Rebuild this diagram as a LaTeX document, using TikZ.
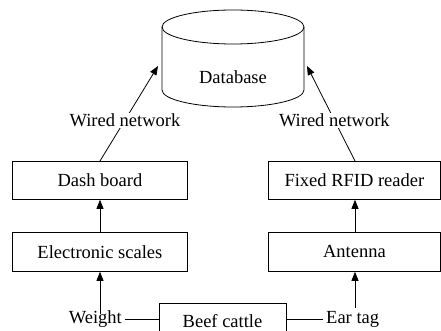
\documentclass[tikz,border=0pt]{standalone}
\usepackage{fontspec}
\setmainfont{Liberation Serif}
\usetikzlibrary{arrows.meta}
\begin{document}
\begin{tikzpicture}[x=1pt,y=-1pt,
  lbl/.style={font=\fontsize{18.5}{21}\selectfont, inner sep=1pt},
  boxn/.style={draw, line width=0.8pt, font=\fontsize{18.5}{21}\selectfont, anchor=north west, inner sep=0pt},
  arr/.style={line width=0.8pt, -{Triangle[width=7pt,length=9pt]}},
  ln/.style={line width=0.8pt}]
\useasboundingbox (0,0) rectangle (441,331);
\begin{scope}
\clip (0,0) rectangle (441,331);
% cylinder
\draw[ln] (162,27) -- (162,90) arc[start angle=180,end angle=0,x radius=71,y radius=17] -- (304,27);
\draw[ln] (233,27) ellipse [x radius=71, y radius=17];
\node[lbl] (db) at (233,77) {Database};
\coordinate (dbl) at (158,66);
\coordinate (dbr) at (307,66);
% boxes
\node[boxn, minimum width=175, minimum height=38] (dash) at (12,161) {Dash board};
\node[boxn, minimum width=172, minimum height=38] (rfid) at (268,161) {Fixed RFID reader};
\node[boxn, minimum width=175, minimum height=39] (scale) at (12,232) {Electronic scales};
\node[boxn, minimum width=172, minimum height=39] (ant) at (268,232) {Antenna};
\node[boxn, minimum width=127, minimum height=50] (cattle) at (159,303) {};
\node[lbl] (cattlet) at (222.5,321.5) {Beef cattle};
\node[lbl, anchor=east] (weight) at (123,319) {Weight};
\node[lbl, anchor=west] (ear) at (325,319) {Ear tag};
\coordinate (dtop) at (100,161);
\coordinate (rtop) at (355,161);
% connectors
\draw[arr] (dtop) -- node[lbl, fill=white, pos=0.43] (wl) {Wired network} (dbl);
\draw[arr] (rtop) -- node[lbl, fill=white, pos=0.43] (wr) {Wired network} (dbr);
\draw[arr] (100,232) -- (dash.south -| 100,0);
\draw[arr] (355,232) -- (rfid.south -| 355,0);
\draw[arr] (100,314) -- (scale.south -| 100,0);
\draw[arr] (355,308) -- (ant.south -| 355,0);
\draw[ln] (weight.east) ++(2,0) -- (weight.east -| cattle.west);
\draw[ln] (ear.west) ++(-2,0) -- (ear.west -| cattle.east);
\end{scope}
\end{tikzpicture}
\end{document}
